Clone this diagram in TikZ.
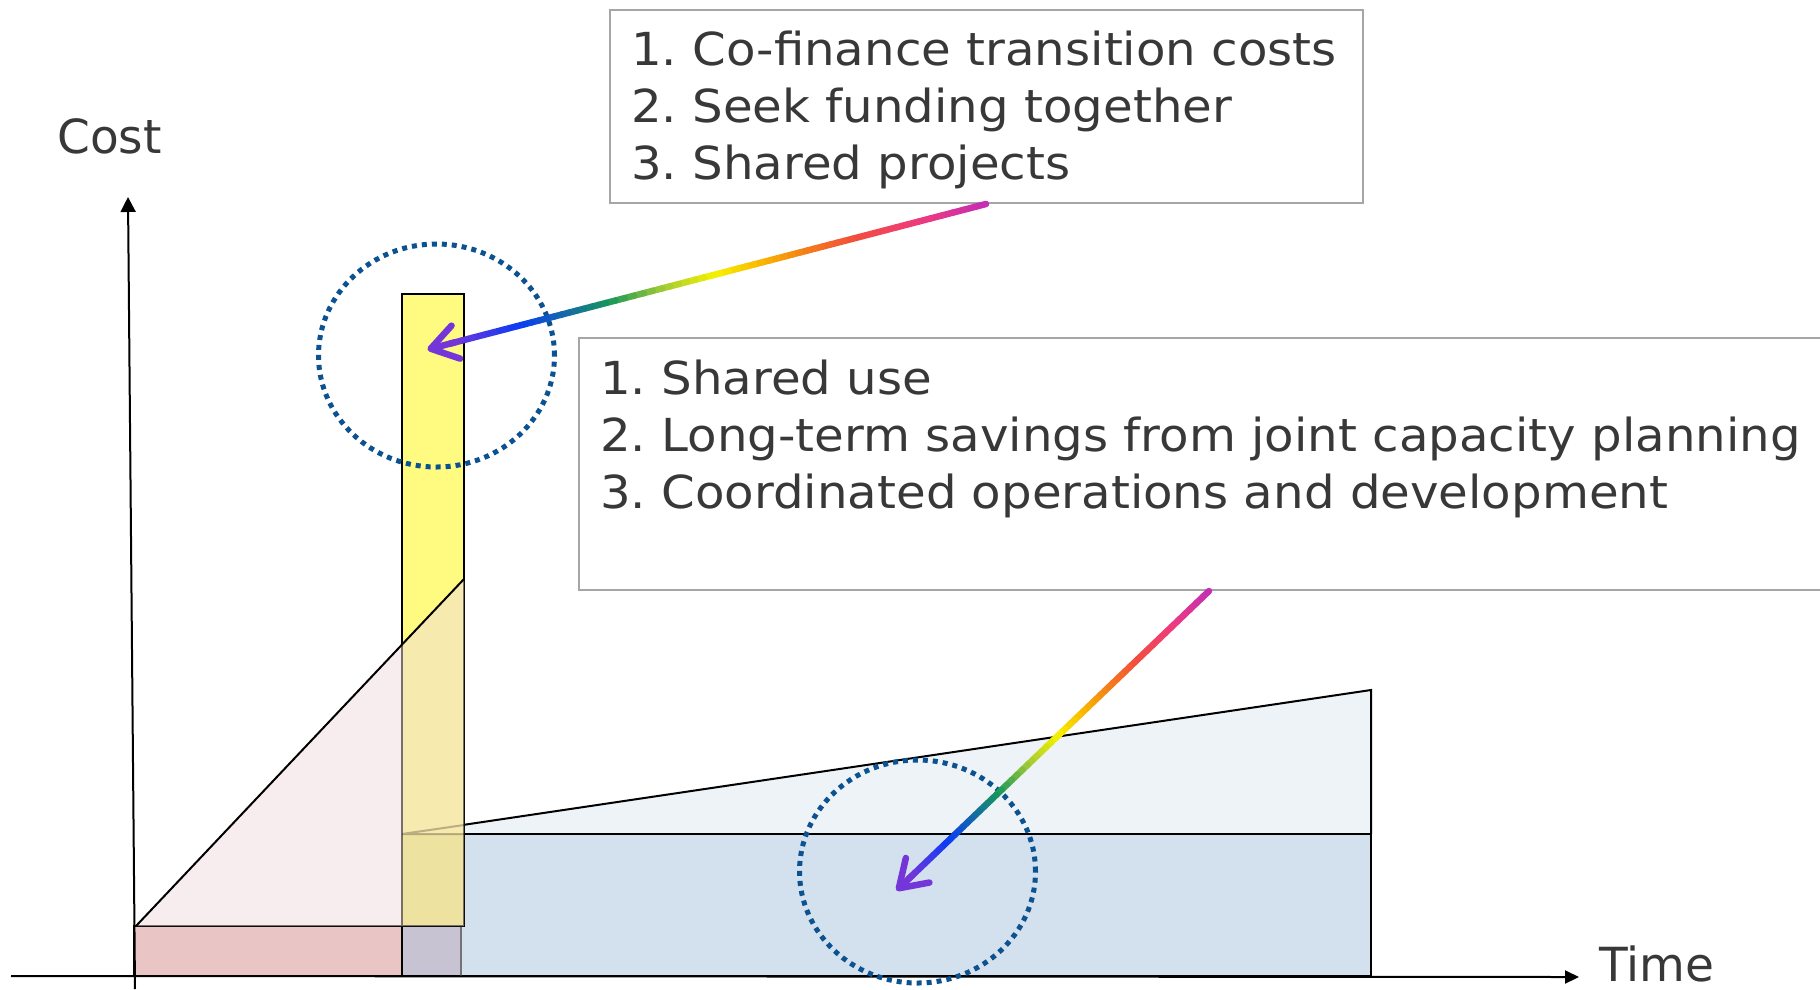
\documentclass[tikz,border=0pt]{standalone}
\usepackage{fontspec}
\setmainfont{DejaVu Sans}
\newfontfamily\listfont{DejaVu Sans}[FakeStretch=1.06]
\usetikzlibrary{positioning, calc, arrows.meta, shapes.geometric}
\frenchspacing

\definecolor{inkgray}{HTML}{383838}
\definecolor{framegray}{HTML}{A6A6A6}
\definecolor{ringblue}{HTML}{0C5291}
\definecolor{barfill}{HTML}{FFFA80}
\definecolor{trifill}{HTML}{F1DCDD}
\definecolor{redfill}{HTML}{E9C5C5}
\definecolor{lavfill}{HTML}{C7C3D3}
\definecolor{bluefill}{HTML}{D3E0EE}
\definecolor{skyfill}{HTML}{EEF3F8}
% rainbow stops, tail to head
\definecolor{rb0}{HTML}{C22EB6}
\definecolor{rb1}{HTML}{EE3A80}
\definecolor{rb2}{HTML}{F24E3C}
\definecolor{rb3}{HTML}{F47A1C}
\definecolor{rb4}{HTML}{F8B200}
\definecolor{rb5}{HTML}{F6F200}
\definecolor{rb6}{HTML}{A4CC32}
\definecolor{rb7}{HTML}{16975C}
\definecolor{rb8}{HTML}{1568AA}
\definecolor{rb9}{HTML}{0A3CF5}
\definecolor{rb10}{HTML}{7436D9}

\begin{document}
\begin{tikzpicture}[x=1pt, y=-1pt,
    every node/.style={inner sep=0pt, text=inkgray},
    axislabel/.style={font=\fontsize{47}{56}\selectfont},
    infobox/.style={draw=framegray, line width=2pt, anchor=north west},
    itemlist/.style={font={\listfont\fontsize{45.5}{57}\selectfont}, align=left, anchor=north west},
    ring/.style={draw=ringblue, line width=5pt, dash pattern=on 5pt off 5pt, ellipse, minimum width=236pt, minimum height=223pt},
    shapeline/.style={draw=black, line width=2pt},
    seg/.style={line width=6.5pt, line cap=round},
]
    \path[use as bounding box, clip] (0,0) rectangle (1820,989);

    % cost areas
    \fill[skyfill] (402,834) -- (1371,690) -- (1371,834) -- cycle;
    \draw[shapeline] (402,834) -- (1371,690) -- (1371,834);
    \filldraw[shapeline, fill=bluefill] (402,834) rectangle (1371,976);
    \filldraw[shapeline, fill=redfill] (134,926) rectangle (402,976);
    \filldraw[shapeline, fill=lavfill] (402,926) rectangle (461,976);
    \draw[line width=2pt, black!55] (461,926) -- (461,976);
    \filldraw[shapeline, fill=barfill] (402,294) rectangle (464,926);
    \fill[trifill, fill opacity=.5] (136,926) -- (464,579) -- (464,926) -- cycle;
    \draw[shapeline] (136,926) -- (464,579);
    \fill[olive, fill opacity=.08] (402,834) rectangle (464,926);
    \draw[black, opacity=.25, line width=2pt] (402,834) -- (464,825) (402,834) -- (464,834);

    % axes
    \coordinate (costfoot) at (135,989);
    \coordinate (costtip) at (128,197);
    \coordinate (timefoot) at (11,976);
    \coordinate (timetip) at (1579,977);
    \draw[line width=2pt, -{Triangle[length=15pt, width=15pt]}] (costfoot) -- (costtip);
    \draw[line width=2pt, -{Triangle[length=14pt, width=13pt]}] (timefoot) -- (timetip);
    \node[axislabel, anchor=base west] (costlabel) at (57,153) {Cost};
    \node[axislabel, anchor=base west] (timelabel) at (1599,981) {Time};

    % rings
    \node[ring] (ringbar) at (436.5,355.5) {};
    \node[ring] (ringbase) at (917.5,871.5) {};

    % boxes
    \node[infobox, minimum width=753pt, minimum height=193pt] (fundbox) at (609,9) {};
    \node[itemlist] (fundlist) at ([shift={(22,22)}]fundbox.north west)
        {1. Co-finance transition costs\\2. Seek funding together\\3. Shared projects};
    \node[infobox, minimum width=1260pt, minimum height=252pt] (sharebox) at (578,337) {};
    \node[itemlist] (sharelist) at ([shift={(22,23)}]sharebox.north west)
        {1. Shared use\\2. Long-term savings from joint capacity planning\\3. Coordinated operations and development};

    % rainbow arrows
    \coordinate (fundtail) at ([xshift=377pt]fundbox.south west);
    \coordinate (fundtip) at ([shift={(-9,-6)}]ringbar.center);
    \coordinate (sharetail) at ([xshift=631pt]sharebox.south west);
    \coordinate (sharetip) at ([shift={(-21,19)}]ringbase.center);
    \foreach \from/\to in {fundtail/fundtip, sharetail/sharetip}{
        \foreach \ca/\cb/\ta/\tb in {rb0/rb1/0/.12, rb1/rb2/.12/.24, rb2/rb3/.24/.32, rb3/rb4/.32/.40, rb4/rb5/.40/.49,
                rb5/rb6/.49/.58, rb6/rb7/.58/.68, rb7/rb8/.68/.76, rb8/rb9/.76/.84, rb9/rb10/.84/.96}{
            \foreach \j in {0,...,5}{
                \pgfmathsetmacro\sa{\ta+(\tb-\ta)*\j/6}
                \pgfmathsetmacro\sb{\ta+(\tb-\ta)*(\j+1)/6}
                \pgfmathsetmacro\pc{100*(\j+.5)/6}
                \draw[seg, \cb!\pc!\ca] ($(\from)!\sa!(\to)$) -- ($(\from)!\sb!(\to)$);
            }
        }
        \draw[seg, rb10, -{Straight Barb[round, length=26pt, width=34pt]}] ($(\from)!.95!(\to)$) -- (\to);
    }

\end{tikzpicture}
\end{document}
